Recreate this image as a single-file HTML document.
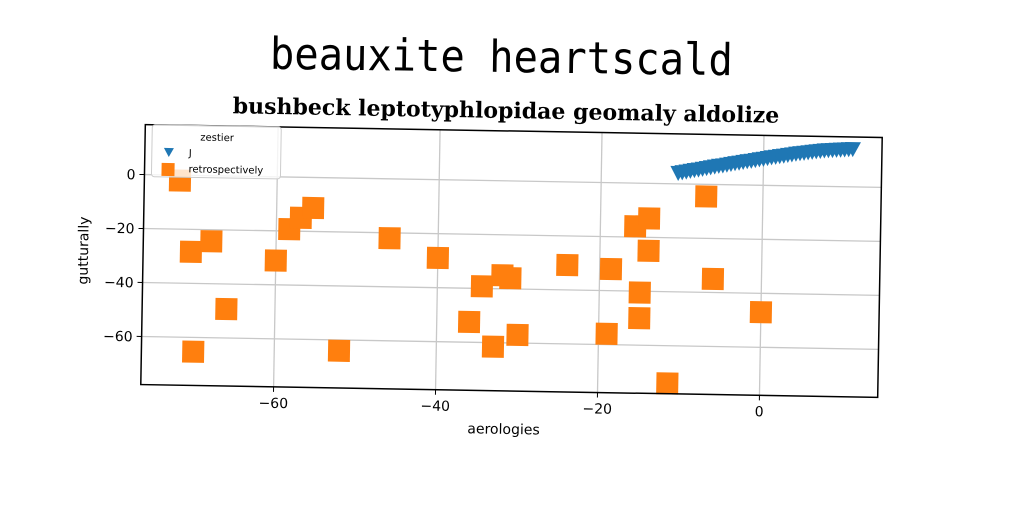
<!DOCTYPE html>
<html><head><meta charset="utf-8"><style>
html,body{margin:0;padding:0;background:#fff;}
svg{display:block;font-family:"DejaVu Sans","Liberation Sans",sans-serif;}
</style></head><body>
<svg id="chart" width="1024" height="512" viewBox="0 0 1024 512" xmlns="http://www.w3.org/2000/svg">
<rect width="1024" height="512" fill="#fff"/>
<text x="503" y="72" text-anchor="middle" font-family="'DejaVu Sans Mono','Liberation Mono',monospace" font-size="44" transform="rotate(0.8 503 58) scale(0.92 1) translate(42 0)">beauxite heartscald</text>
<text x="506" y="118" text-anchor="middle" font-family="'DejaVu Serif','Liberation Serif',serif" font-weight="bold" font-size="22" transform="rotate(1 506 112)">bushbeck leptotyphlopidae geomaly aldolize</text>
<g id="plot" transform="rotate(1 511 261)"></g>
</svg>
<script>
const orangeX=[-72,-70.5,-68,-66,-70,-60,-58.4,-57,-55.5,-52,-46,-40,-36,-34.5,-33,-32,-31,-30,-24,-18.6,-19,-15.7,-14,-14,-15,-15,-11.4,-7,-6,0];
const orangeY=[-2,-28.3,-24.3,-49.3,-65.3,-31,-19.3,-15,-11.3,-64,-22,-29,-52.5,-39.2,-61.5,-35,-36,-57,-30.8,-32,-56,-16,-13,-25,-40.5,-50,-74,-4.5,-35,-47];
const blueX=[-10.5,-10,-9.5,-9,-8.5,-8,-7.5,-7,-6.5,-6,-5.5,-5,-4.5,-4,-3.5,-3,-2.5,-2,-1.5,-1,-0.5,0,0.5,1,1.5,2,2.5,3,3.5,4,4.5,5,5.5,6,6.5,7,7.5,8,8.5,9,9.5,10,10.5,11];
const blueY=[4,4.3,4.6,4.9,5.2,5.4,5.7,6,6.3,6.6,6.9,7.1,7.4,7.7,8,8.2,8.5,8.8,9,9.3,9.6,9.8,10.1,10.4,10.6,10.9,11.1,11.4,11.6,11.9,12.1,12.3,12.5,12.7,12.9,13.1,13.3,13.4,13.5,13.6,13.7,13.8,13.9,14];
const xTicks=[-60,-40,-20,0];
const yTicks=[0,-20,-40,-60];
const L=143,R=880,T=131,B=391,xmin=-76.4,xmax=14.6,ymin=-77.8,ymax=18.5;
const sx=v=>L+(v-xmin)/(xmax-xmin)*(R-L);
const sy=v=>B-(v-ymin)/(ymax-ymin)*(B-T);
const NS='http://www.w3.org/2000/svg';
const g=document.getElementById('plot');
function mk(t,a,p){const e=document.createElementNS(NS,t);for(const k in a)e.setAttribute(k,a[k]);(p||g).appendChild(e);return e;}
xTicks.forEach(v=>{
 const l=mk('line',{x1:sx(v),x2:sx(v),y1:T,y2:B,stroke:'#c8c8c8','stroke-width':1.3});
 
 
 const tk=mk('line',{x1:sx(v),x2:sx(v),y1:B,y2:B+5,stroke:'#000'});
 
 
 const t=mk('text',{x:sx(v),y:B+21,'text-anchor':'middle','font-size':14});
 t.textContent=v<0?'\u2212'+(-v):String(v);
 
 
});
yTicks.forEach(v=>{
 const l=mk('line',{x1:L,x2:R,y1:sy(v),y2:sy(v),stroke:'#c8c8c8','stroke-width':1.3});
 
 
 const tk=mk('line',{x1:L-5,x2:L,y1:sy(v),y2:sy(v),stroke:'#000'});
 
 
 const t=mk('text',{x:L-9,y:sy(v)+5,'text-anchor':'end','font-size':14});
 t.textContent=v<0?'\u2212'+(-v):String(v);
 
 
});
blueX.forEach((x,i)=>{
 const cx=sx(x),cy=sy(blueY[i]);
 const p=mk('path',{d:`M${cx-8},${cy-7}L${cx+8},${cy-7}L${cx},${cy+8}Z`,fill:'#1f77b4'});
 
 
});
orangeX.forEach((x,i)=>{
 const p=mk('rect',{x:sx(x)-11,y:sy(orangeY[i])-11,width:22,height:22,fill:'#ff7f0e'});
 
 
});
const fr=mk('rect',{x:L,y:T,width:R-L,height:B-T,fill:'none',stroke:'#000','stroke-width':1.5});


const xl=mk('text',{x:(L+R)/2-5,y:B+43,'text-anchor':'middle','font-size':14});
xl.textContent='aerologies';


const yl=mk('text',{x:88,y:258,'text-anchor':'middle','font-size':14,transform:'rotate(-90 88 258)'});
yl.textContent='gutturally';


const lg=mk('g',{});


mk('rect',{x:150,y:131,width:129,height:52,rx:3,fill:'rgba(255,255,255,0.8)',stroke:'#ccc'},lg);
const lt=mk('text',{x:215,y:146,'text-anchor':'middle','font-size':10},lg);
lt.textContent='zestier';


const li=mk('path',{d:'M162,154L172,154L167,163Z',fill:'#1f77b4'},lg);


const l1=mk('text',{x:187,y:162,'font-size':10},lg);
l1.textContent='J';


const lr=mk('rect',{x:160,y:169,width:13,height:13,fill:'#ff7f0e'},lg);


const l2=mk('text',{x:187,y:178,'font-size':10},lg);
l2.textContent='retrospectively';


</script>
</body></html>
